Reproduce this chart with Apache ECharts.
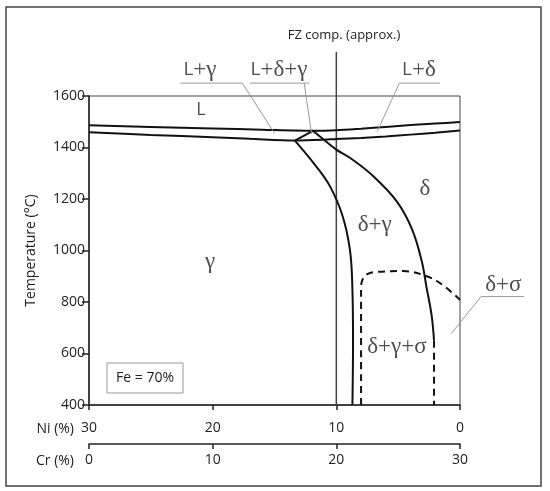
<!DOCTYPE html>
<html>
<head>
<meta charset="utf-8">
<script src="https://cdn.jsdelivr.net/npm/echarts@6/dist/echarts.min.js"></script>
<style>
  html, body { margin: 0; padding: 0; background: #fff; }
  #chart { width: 550px; height: 491px; }
</style>
</head>
<body>
<div id="chart"></div>
<script>
// phase boundaries, [Cr %, Temperature °C]  (Ni = 30 - Cr)
var liquidusUpper = [[0,1486],[5,1480],[10,1474],[14,1469],[18.1,1465],[20,1467],[22,1473],[24,1480],[26,1487],[28,1493],[30,1499]];
var liquidusLower = [[0,1459],[5,1449],[10,1440],[13,1434],[16.65,1427],[19,1430],[20,1433],[22,1437],[24,1443],[26,1450],[28,1457],[30,1466]];
var triangle = [[16.65,1427],[18.1,1465],[19,1430]];
var gammaBoundary = [[16.65,1427],[18.4,1325],[19.5,1248],[20.5,1135],[21.1,1002],[21.3,850],[21.35,650],[21.3,400]];
var deltaBoundary = [[19,1430],[20,1392],[21.1,1360],[23,1288],[24.9,1190],[26.1,1085],[26.9,960],[27.3,855],[27.7,750],[27.9,650]];
var deltaDashed = [[27.9,650],[27.9,400]];
var sigmaBoundary = [[22,400],[22,850],[22.1,885],[22.5,908],[23.3,917],[25.4,920],[27.3,900],[28.6,866],[30,808]];
var fzLine = [[20,400],[20,1772]];

// leader lines for the labels
var leaderLg = [[7.4,1650],[12.4,1650],[15.0,1455]];
var leaderLdgBar = [[13.0,1650],[17.8,1650]];
var leaderLdg = [[17.4,1650],[18.0,1452]];
var leaderLd = [[28.4,1650],[25.1,1650],[23.3,1462]];
var leaderDs = [[29.3,678],[31.7,821],[35.2,821]];

var regionLabels = [
  {name: 'L', value: [9.05, 1546]},
  {name: 'γ', value: [9.8, 955]},
  {name: 'δ', value: [27.16, 1238]},
  {name: 'δ+γ', value: [23.1, 1099]},
  {name: 'δ+γ+σ', value: [24.9, 625]},
  {name: 'δ+σ', value: [33.5, 866]},
  {name: 'L+γ', value: [8.97, 1701]},
  {name: 'L+δ+γ', value: [15.36, 1701]},
  {name: 'L+δ', value: [26.68, 1701]}
];

var chart = echarts.init(document.getElementById('chart'));

function curve(data, opts) {
  return {
    type: 'line',
    data: data,
    xAxisIndex: 0,
    showSymbol: false,
    symbol: 'none',
    clip: false,
    silent: true,
    smooth: opts.smooth || false,
    lineStyle: {
      color: opts.color || '#111',
      width: opts.width || 2,
      type: opts.dashed ? [7, 5] : 'solid'
    },
    z: opts.z || 3
  };
}

function labelFmt(p) {
  if (p.name === 'L') return '{b|L}';
  return p.name.replace(/([^L]+)/g, '{g|$1}').replace(/L/g, '{s|L}');
}

var axisCommon = {
  type: 'value',
  min: 0,
  max: 30,
  interval: 10,
  position: 'bottom',
  splitLine: {show: false},
  axisLine: {show: true, onZero: false, lineStyle: {color: '#222', width: 1.5}},
  axisTick: {show: true, length: 5, lineStyle: {color: '#222', width: 1.5}}
};

var graphics = [
  {type: 'rect', shape: {x: 6, y: 7, width: 535, height: 479},
   style: {fill: 'none', stroke: '#444', lineWidth: 1.5}, silent: true},
  {type: 'rect', shape: {x: 107, y: 363, width: 76, height: 30},
   style: {fill: '#fff', stroke: '#999', lineWidth: 1}, z: 10},
  {type: 'text', x: 145, y: 378, z: 11,
   style: {text: 'Fe = 70%', fontSize: 14, fontFamily: 'Open Sans', fill: '#222', align: 'center', verticalAlign: 'middle'}},
  {type: 'text', x: 74, y: 429,
   style: {text: 'Ni (%)', fontSize: 14, fontFamily: 'Open Sans', fill: '#222', align: 'right', verticalAlign: 'middle'}},
  {type: 'text', x: 74, y: 461,
   style: {text: 'Cr (%)', fontSize: 14, fontFamily: 'Open Sans', fill: '#222', align: 'right', verticalAlign: 'middle'}},
  {type: 'text', x: 344, y: 35,
   style: {text: 'FZ comp. (approx.)', fontSize: 13, fontFamily: 'Open Sans', fill: '#222', align: 'center', verticalAlign: 'middle'}}
];

var option = {
  animation: false,
  backgroundColor: '#fff',
  textStyle: {fontFamily: 'Open Sans'},
  grid: {
    left: 89, top: 96, width: 371, height: 309,
    show: true, borderColor: '#444', borderWidth: 1
  },
  xAxis: [
    Object.assign({}, axisCommon, {
      offset: 39,
      axisLabel: {margin: 9, fontSize: 14, color: '#222', fontFamily: 'Open Sans'}
    }),
    Object.assign({}, axisCommon, {
      inverse: true,
      offset: 0,
      axisLabel: {margin: 16, fontSize: 14, color: '#222', fontFamily: 'Open Sans'}
    })
  ],
  yAxis: {
    type: 'value',
    min: 400,
    max: 1600,
    interval: 200,
    name: 'Temperature (°C)',
    nameLocation: 'middle',
    nameGap: 51,
    nameTextStyle: {fontSize: 14, color: '#222', fontFamily: 'Open Sans'},
    splitLine: {show: false},
    axisLine: {show: true, lineStyle: {color: '#222', width: 1.5}},
    axisTick: {show: true, length: 7, lineStyle: {color: '#222', width: 1.5}},
    axisLabel: {
      margin: 4, fontSize: 14, color: '#222', fontFamily: 'Open Sans',
      formatter: function (v) { return String(v); }
    }
  },
  graphic: graphics,
  series: [
    curve(fzLine, {color: '#444', width: 1.5, z: 2}),
    curve(liquidusUpper, {smooth: 0.3}),
    curve(liquidusLower, {smooth: 0.3}),
    curve(triangle, {}),
    curve(gammaBoundary, {smooth: 0.4}),
    curve(deltaBoundary, {smooth: 0.4}),
    curve(deltaDashed, {dashed: true}),
    curve(sigmaBoundary, {smooth: 0.4, dashed: true}),
    curve(leaderLg, {color: '#999', width: 1}),
    curve(leaderLdgBar, {color: '#999', width: 1}),
    curve(leaderLdg, {color: '#999', width: 1}),
    curve(leaderLd, {color: '#999', width: 1}),
    {
      type: 'scatter',
      xAxisIndex: 0,
      data: regionLabels,
      symbolSize: 0,
      clip: false,
      silent: true,
      z: 5,
      label: {
        show: true,
        position: 'inside',
        formatter: labelFmt,
        rich: {
          b: {fontFamily: 'Open Sans', fontSize: 18, color: '#222'},
          s: {fontFamily: 'Open Sans', fontSize: 19, color: '#222'},
          g: {fontFamily: 'Liberation Serif', fontSize: 23, color: '#222'}
        }
      }
    }
  ]
};

chart.setOption(option);

// the δ+σ leader reaches past the x range, so place it through the axes by hand
var dsPoints = leaderDs.map(function (p) {
  return chart.convertToPixel({xAxisIndex: 0, yAxisIndex: 0}, p);
});
graphics.push({
  type: 'polyline', silent: true, z: 4,
  shape: {points: dsPoints},
  style: {fill: 'none', stroke: '#999', lineWidth: 1}
});
chart.setOption({graphic: graphics});
</script>
</body>
</html>
